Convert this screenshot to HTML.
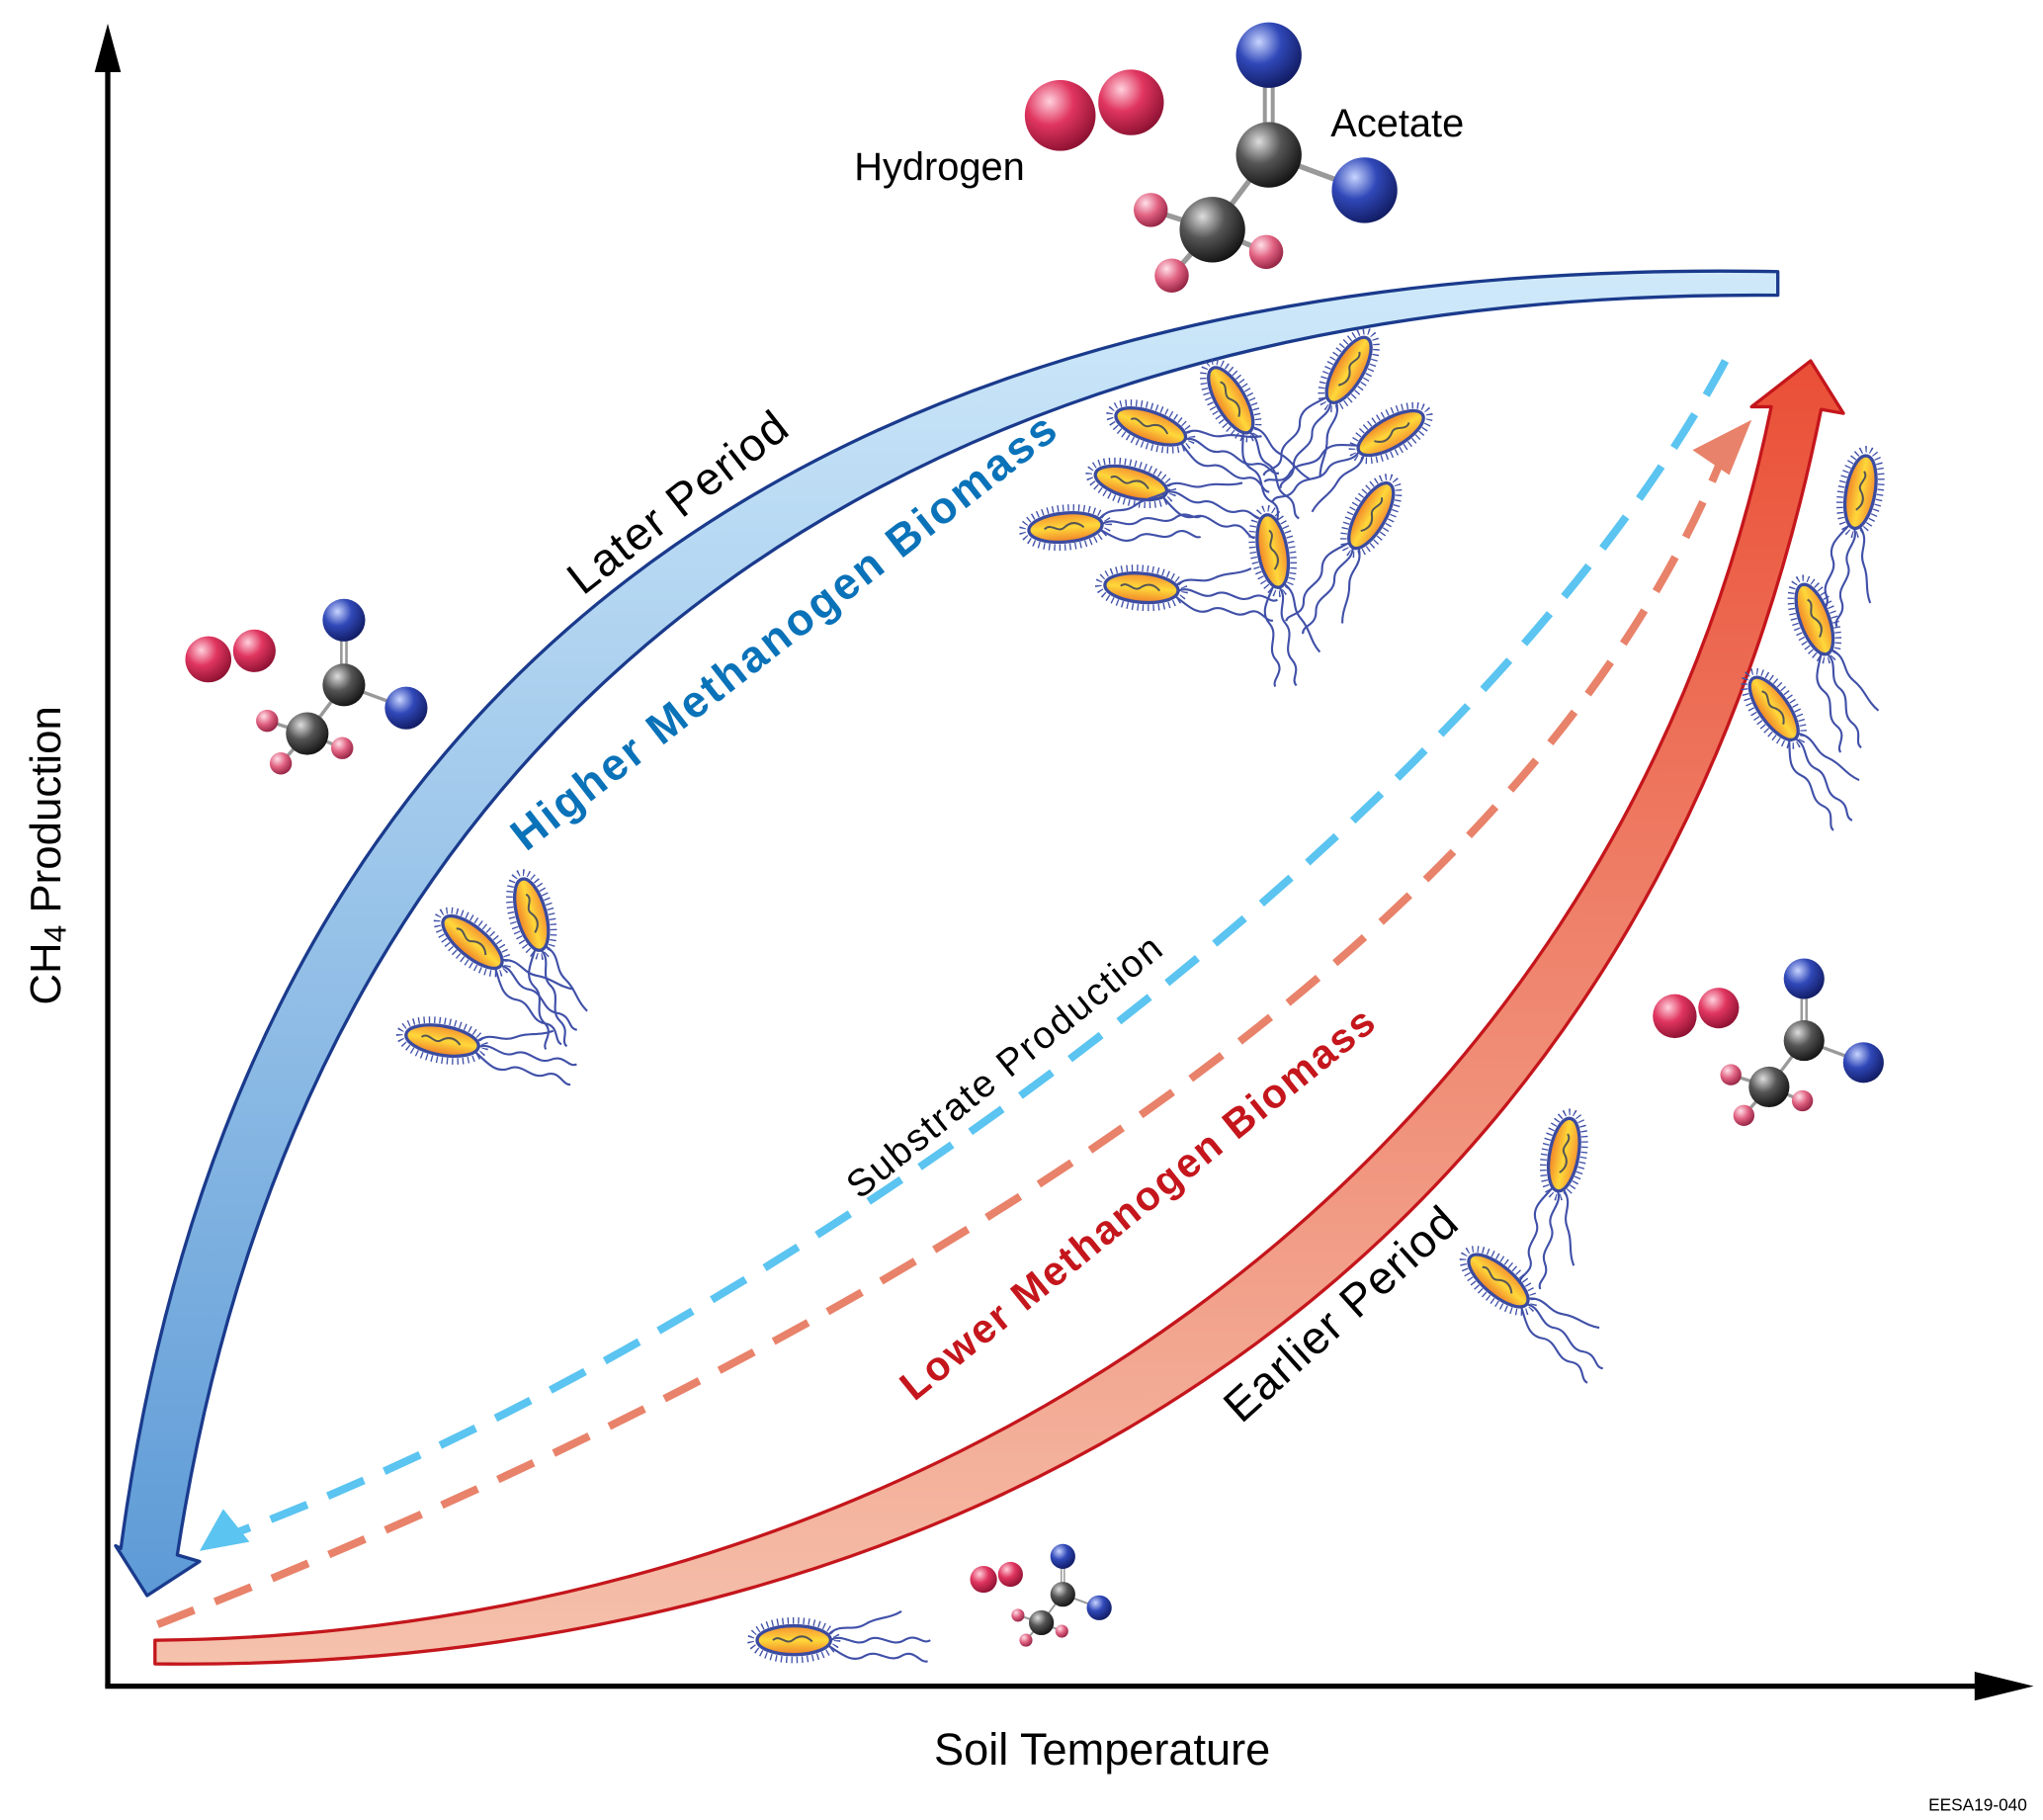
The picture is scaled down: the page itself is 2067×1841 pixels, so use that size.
<!DOCTYPE html>
<html><head><meta charset="utf-8"><style>html,body{margin:0;padding:0;background:#fff}svg{display:block}</style></head>
<body>
<svg width="2067" height="1841" viewBox="0 0 1557 1387" xmlns="http://www.w3.org/2000/svg" font-family="Liberation Sans, DejaVu Sans, sans-serif">
<defs>
<linearGradient id="gb" x1="0" y1="0" x2="0" y2="1"><stop offset="0" stop-color="#cfe9fa"/><stop offset="1" stop-color="#5d9ad6"/></linearGradient>
<linearGradient id="gr" x1="0" y1="1" x2="0" y2="0"><stop offset="0" stop-color="#f5c2ad"/><stop offset="1" stop-color="#ea4f36"/></linearGradient>
<radialGradient id="sr" cx="0.35" cy="0.3" r="0.75"><stop offset="0" stop-color="#ffd0dc"/><stop offset="0.45" stop-color="#e0355f"/><stop offset="1" stop-color="#8a1030"/></radialGradient>
<radialGradient id="sb" cx="0.35" cy="0.3" r="0.75"><stop offset="0" stop-color="#c8d4ff"/><stop offset="0.45" stop-color="#3048b8"/><stop offset="1" stop-color="#101a60"/></radialGradient>
<radialGradient id="sg" cx="0.35" cy="0.3" r="0.75"><stop offset="0" stop-color="#dddddd"/><stop offset="0.45" stop-color="#555"/><stop offset="1" stop-color="#111"/></radialGradient>
<radialGradient id="sp" cx="0.35" cy="0.3" r="0.75"><stop offset="0" stop-color="#ffe0e8"/><stop offset="0.5" stop-color="#e06080"/><stop offset="1" stop-color="#902040"/></radialGradient>
<linearGradient id="bo" x1="0" y1="0" x2="0" y2="1"><stop offset="0" stop-color="#f59030"/><stop offset="0.5" stop-color="#ffd83a"/><stop offset="1" stop-color="#f08028"/></linearGradient>
<g id="m">
 <circle cx="-159" cy="-30" r="27" fill="url(#sr)"/>
 <circle cx="-105" cy="-40" r="25" fill="url(#sr)"/>
 <line x1="-3" y1="-76" x2="-3" y2="0" stroke="#999" stroke-width="3"/><line x1="3" y1="-76" x2="3" y2="0" stroke="#999" stroke-width="3"/>
 <line x1="0" y1="0" x2="73" y2="27" stroke="#999" stroke-width="4"/>
 <line x1="0" y1="0" x2="-43" y2="57" stroke="#999" stroke-width="4"/>
 <line x1="-43" y1="57" x2="-90" y2="42" stroke="#999" stroke-width="4"/>
 <line x1="-43" y1="57" x2="-74" y2="92" stroke="#999" stroke-width="4"/>
 <line x1="-43" y1="57" x2="-2" y2="74" stroke="#999" stroke-width="4"/>
 <circle cx="0" cy="-76" r="25" fill="url(#sb)"/>
 <circle cx="73" cy="27" r="25" fill="url(#sb)"/>
 <circle cx="-90" cy="42" r="13" fill="url(#sp)"/>
 <circle cx="-74" cy="92" r="13" fill="url(#sp)"/>
 <circle cx="-2" cy="74" r="13" fill="url(#sp)"/>
 <circle cx="-43" cy="57" r="25" fill="url(#sg)"/>
 <circle cx="0" cy="0" r="25" fill="url(#sg)"/>
</g>
<g id="bac">
 <g fill="none" stroke="#4050a8" stroke-width="1.6">
  <path d="M28,0 c10,-6 18,6 28,0 s18,6 28,0 s14,4 20,0"/>
  <path d="M26,4 c10,6 18,14 28,8 s18,6 28,0 s14,6 20,4"/>
  <path d="M26,-4 c10,-10 18,-2 28,-8 s18,-4 28,-10"/>
 </g>
 <ellipse cx="0" cy="0" rx="33" ry="15" fill="none" stroke="#4050a8" stroke-width="5" stroke-dasharray="1 3"/>
 <ellipse cx="0" cy="0" rx="28" ry="11" fill="url(#bo)" stroke="#3b4ba0" stroke-width="2.5"/>
 <path d="M-16,0 c5,-5 10,4 15,0 s10,-4 15,1" fill="none" stroke="#555" stroke-width="1.5"/>
</g>
</defs>

<!-- axes -->
<line x1="82" y1="1285" x2="82" y2="50" stroke="#000" stroke-width="4"/>
<polygon points="82,18 72,55 92,55" fill="#000"/>
<line x1="80" y1="1285" x2="1510" y2="1285" stroke="#000" stroke-width="4"/>
<polygon points="1550,1285 1505,1274 1505,1296" fill="#000"/>
<text transform="translate(46,652) rotate(-90)" text-anchor="middle" font-size="33">CH<tspan font-size="24" dy="4">4</tspan><tspan dy="-4"> Production</tspan></text>
<text x="840" y="1345" text-anchor="middle" font-size="34">Soil Temperature</text>
<text x="1545" y="1380" text-anchor="end" font-size="13">EESA19-040</text>

<!-- blue arc -->
<path d="M1355,207 C700,195 190,450 92,1180 L88,1178 L112,1216 L152,1190 L135,1185 C240,500 730,220 1355,225 Z" fill="url(#gb)" stroke="#1a3a8c" stroke-width="2.5" stroke-linejoin="round"/>
<!-- red arc -->
<path d="M118,1268 C700,1275 1250,1000 1388,312 L1405,315 L1380,275 L1335,310 L1350,310 C1230,900 700,1245 118,1250 Z" fill="url(#gr)" stroke="#c4161c" stroke-width="2.5" stroke-linejoin="round"/>

<!-- dashed -->
<path d="M1315,275 C1130,620 600,1010 180,1168" fill="none" stroke="#5bc4f0" stroke-width="6" stroke-dasharray="30 17"/>
<polygon points="152,1182 170,1150 190,1175" fill="#5bc4f0"/>
<path d="M120,1238 C600,1050 1150,750 1312,350" fill="none" stroke="#e8826a" stroke-width="6" stroke-dasharray="30 17"/>
<polygon points="1335,320 1290,343 1318,362" fill="#e8826a"/>

<!-- labels -->
<text transform="translate(524,392) rotate(-38)" text-anchor="middle" font-size="35" letter-spacing="1">Later Period</text>
<text transform="translate(605,490) rotate(-38)" text-anchor="middle" font-size="34" font-weight="bold" fill="#0a72b8" letter-spacing="2">Higher Methanogen Biomass</text>
<text transform="translate(772,820) rotate(-39)" text-anchor="middle" font-size="29" letter-spacing="1.5">Substrate Production</text>
<text transform="translate(874,925) rotate(-39)" text-anchor="middle" font-size="31" font-weight="bold" fill="#c4161c" letter-spacing="1.5">Lower Methanogen Biomass</text>
<text transform="translate(1030,1010) rotate(-42)" text-anchor="middle" font-size="35" letter-spacing="1">Earlier Period</text>
<text x="716" y="137" text-anchor="middle" font-size="30">Hydrogen</text>
<text x="1065" y="104" text-anchor="middle" font-size="30">Acetate</text>

<!-- molecules -->
<use href="#m" transform="translate(967,118)"/>
<use href="#m" transform="translate(262,522) scale(0.65)"/>
<use href="#m" transform="translate(1375,793) scale(0.62)"/>
<use href="#m" transform="translate(810,1215) scale(0.38)"/>

<!-- bacteria -->
<use href="#bac" transform="translate(877,325) rotate(20)"/>
<use href="#bac" transform="translate(862,368) rotate(15)"/>
<use href="#bac" transform="translate(812,402) rotate(-5)"/>
<use href="#bac" transform="translate(870,448) rotate(5)"/>
<use href="#bac" transform="translate(938,305) rotate(60)"/>
<use href="#bac" transform="translate(1028,282) rotate(120)"/>
<use href="#bac" transform="translate(1060,330) rotate(150)"/>
<use href="#bac" transform="translate(1045,393) rotate(120)"/>
<use href="#bac" transform="translate(970,420) rotate(80)"/>
<use href="#bac" transform="translate(1418,375) rotate(100)"/>
<use href="#bac" transform="translate(1383,472) rotate(70)"/>
<use href="#bac" transform="translate(1352,540) rotate(55)"/>
<use href="#bac" transform="translate(360,718) rotate(40)"/>
<use href="#bac" transform="translate(405,697) rotate(75)"/>
<use href="#bac" transform="translate(337,793) rotate(10)"/>
<use href="#bac" transform="translate(1192,880) rotate(100)"/>
<use href="#bac" transform="translate(1142,976) rotate(40)"/>
<use href="#bac" transform="translate(605,1250) rotate(0)"/>
</svg>
</body></html>
